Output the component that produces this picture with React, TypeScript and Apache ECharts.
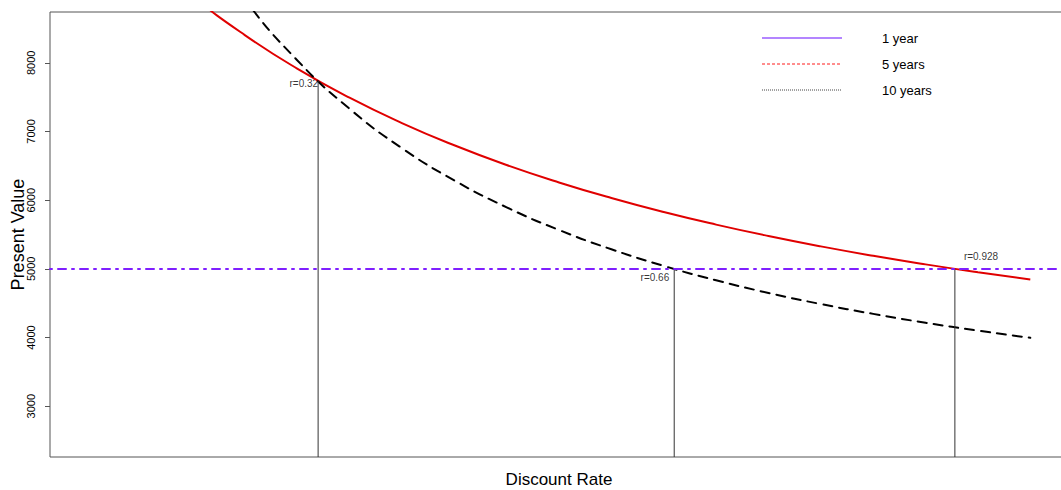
import React, { useEffect, useRef } from "react";
import * as echarts from "echarts";

// Discount rates sampled along the x axis
const rates = [0.1, 0.15, 0.2, 0.25, 0.3, 0.35, 0.4, 0.45, 0.5, 0.55, 0.6, 0.65, 0.7, 0.75, 0.8, 0.85, 0.9, 0.95, 1.0];
// Present values
const fiveYears = [10425, 9637, 8972, 8404, 7916, 7492, 7123, 6799, 6512, 6258, 6031, 5827, 5644, 5478, 5327, 5190, 5065, 4950, 4844];
const tenYears = [13518, 11543, 10062, 8926, 8038, 7331, 6758, 6288, 5896, 5566, 5285, 5043, 4833, 4649, 4487, 4344, 4215, 4100, 3996];
const oneYear = 5000;

// Crossing points
const crossRates = [0.32, 0.66, 0.928];
const crossValues = [7739, 5000, 5000];
const crossLabels = ["r=0.32", "r=0.66", "r=0.928"];

// Axes
const yTicks = [3000, 4000, 5000, 6000, 7000, 8000];
const xRange = [0.064, 1.036];
const yRange = [2260, 8740];

const legendLabels = ["1 year", "5 years", "10 years"];

const FONT = "Liberation Sans, Arial, sans-serif";

export default function App() {
  const ref = useRef<HTMLDivElement>(null);
  useEffect(() => {
    if (!ref.current) return;
    const chart = echarts.init(ref.current, undefined, { renderer: "svg" });

    const labelStyles = [
      { position: "left", distance: 0, offset: [0, 3] },
      { position: "left", distance: 5, offset: [0, 9] },
      { position: "right", distance: 9, offset: [0, -12] },
    ];

    const legendLines = [
      { stroke: "#9a5cff", lineWidth: 1.5, lineDash: null },
      { stroke: "#ff1a1a", lineWidth: 1, lineDash: [3, 2] },
      { stroke: "#444", lineWidth: 1, lineDash: [1, 1] },
    ];
    const legendY = [38, 64, 90];

    const graphic: any[] = [];
    legendLabels.forEach((lab, i) => {
      graphic.push({
        type: "line",
        shape: { x1: 762, y1: legendY[i], x2: 842, y2: legendY[i] },
        style: { stroke: legendLines[i].stroke, lineWidth: legendLines[i].lineWidth, lineDash: legendLines[i].lineDash },
        silent: true,
      });
      graphic.push({
        type: "text",
        x: 882,
        y: legendY[i],
        style: { text: lab, fontSize: 13, fontFamily: FONT, fill: "#000", verticalAlign: "middle", align: "left" },
        silent: true,
      });
    });

    const option: any = {
      animation: false,
      backgroundColor: "#fff",
      grid: {
        left: 50,
        right: -7,
        top: 12,
        bottom: 33,
        show: true,
        borderColor: "#555",
        borderWidth: 1,
        backgroundColor: "transparent",
        containLabel: false,
        outerBoundsMode: "none",
      },
      xAxis: {
        type: "value",
        min: xRange[0],
        max: xRange[1],
        name: "Discount Rate",
        nameLocation: "middle",
        nameGap: 14,
        nameMoveOverlap: false,
        nameTextStyle: { fontSize: 17, fontFamily: FONT, color: "#000", verticalAlign: "top" },
        axisLine: { show: false },
        axisTick: { show: false },
        axisLabel: { show: false },
        splitLine: { show: false },
      },
      yAxis: {
        type: "value",
        min: yRange[0],
        max: yRange[1],
        name: "Present Value",
        nameLocation: "middle",
        nameGap: 23,
        nameMoveOverlap: false,
        nameRotate: 90,
        nameTextStyle: { fontSize: 18, fontFamily: FONT, color: "#000" },
        axisLine: { show: false },
        axisTick: { show: true, length: 5, lineStyle: { color: "#555" }, customValues: yTicks },
        axisLabel: {
          rotate: 90,
          margin: 14,
          fontSize: 11,
          fontFamily: FONT,
          color: "#000",
          customValues: yTicks,
          formatter: (v: number) => String(v),
        },
        splitLine: { show: false },
      },
      graphic,
      series: [
        {
          name: "5 years",
          type: "line",
          data: rates.map((r, i) => [r, fiveYears[i]]),
          showSymbol: false,
          smooth: 0.5,
          lineStyle: { color: "#e00000", width: 2 },
          silent: true,
        },
        {
          name: "10 years",
          type: "line",
          data: rates.map((r, i) => [r, tenYears[i]]),
          showSymbol: false,
          smooth: 0.5,
          lineStyle: { color: "#000", width: 2, type: [9, 7], cap: "round" },
          silent: true,
        },
        {
          name: "1 year",
          type: "line",
          data: [],
          markLine: {
            silent: true,
            symbol: "none",
            label: { show: false },
            lineStyle: { color: "#7f1fff", width: 2, type: [2, 6, 8, 6], cap: "round" },
            data: [{ yAxis: oneYear }],
          },
        },
        ...crossRates.map((r, i) => ({
          type: "line",
          data: [
            [r, yRange[0]],
            [r, crossValues[i]],
          ],
          showSymbol: false,
          lineStyle: { color: "#333", width: 1 },
          silent: true,
        })),
        {
          type: "scatter",
          symbolSize: 0,
          silent: true,
          data: crossRates.map((r, i) => ({
            value: [r, crossValues[i]],
            label: {
              show: true,
              formatter: crossLabels[i],
              fontSize: 10,
              fontFamily: FONT,
              color: "#000",
              ...labelStyles[i],
            },
          })),
        },
      ],
    };
    chart.setOption(option);
    return () => chart.dispose();
  }, []);
  return <div ref={ref} style={{ position: "absolute", left: 0, top: 0, width: 1061, height: 490 }} />;
}
